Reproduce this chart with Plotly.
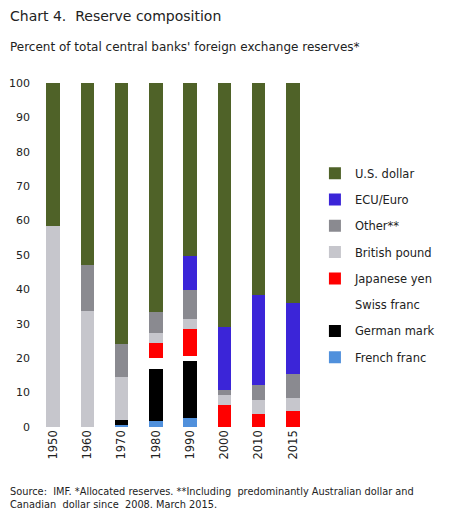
import plotly.graph_objects as go

years = ["1950", "1960", "1970", "1980", "1990", "2000", "2010", "2015"]

# shares in percent (stack order bottom -> top)
french_franc = [0, 0, 0.6, 1.7, 2.6, 0, 0, 0]
german_mark = [0, 0, 1.3, 15.1, 16.5, 0, 0, 0]
swiss_franc = [0, 0, 0, 3.3, 1.5, 0, 0, 0]
japanese_yen = [0, 0, 0, 4.3, 7.9, 6.3, 3.7, 4.6]
british_pound = [58.3, 33.7, 12.6, 2.9, 2.9, 2.9, 4.1, 3.8]
other = [0, 13.4, 9.6, 6.1, 8.5, 1.6, 4.4, 7.0]
ecu_euro = [0, 0, 0, 0, 9.7, 18.3, 26.2, 20.7]
us_dollar = [41.7, 52.9, 75.9, 66.6, 50.4, 70.9, 61.6, 63.9]

FONT = "DejaVu Sans"

series = [
    ("French franc", french_franc, "#5090dc"),
    ("German mark", german_mark, "#000000"),
    ("Swiss franc", swiss_franc, "#ffffff"),
    ("Japanese yen", japanese_yen, "#ff0000"),
    ("British pound", british_pound, "#c6c6cc"),
    ("Other**", other, "#8a8a90"),
    ("ECU/Euro", ecu_euro, "#3b25d8"),
    ("U.S. dollar", us_dollar, "#4f6228"),
]

fig = go.Figure()
for i, (name, vals, col) in enumerate(series):
    fig.add_trace(go.Bar(
        x=years, y=vals, name=name, legendgroup=name,
        legendrank=1000 - i,  # legend lists the top of the stack first
        marker=dict(color=col, line=dict(width=0)),
    ))

# the page body adds 8px on the left and top, so the figure is 8px smaller
fig.update_layout(
    barmode="stack", bargap=0.6,
    width=468, height=508,
    margin=dict(l=28, r=166, t=75, b=89),
    paper_bgcolor="white", plot_bgcolor="white",
    font=dict(family=FONT, size=12, color="#222"),
    showlegend=True,
    legend=dict(
        x=1.018, y=0.78, xanchor="left", yanchor="top",
        traceorder="grouped", tracegroupgap=7.3,
        font=dict(family=FONT, size=11.5, color="#222"),
        itemwidth=30,
    ),
    xaxis=dict(tickangle=-90, showgrid=False, showline=False, ticks="",
               automargin=False, tickfont=dict(family=FONT, size=11.5)),
    yaxis=dict(range=[0, 100], dtick=10, showgrid=False, zeroline=False,
               showline=False, ticks="", ticklabelstandoff=5, automargin=False,
               tickfont=dict(family=FONT, size=11)),
    annotations=[
        dict(text="Chart 4.  Reserve composition", xref="paper", yref="paper",
             x=-28 / 274, y=1.0, yshift=67, xanchor="left", yanchor="middle",
             showarrow=False, font=dict(family=FONT, size=14, color="#222")),
        dict(text="Percent of total central banks' foreign exchange reserves*",
             xref="paper", yref="paper", x=-28 / 274, y=1.0, yshift=36,
             xanchor="left", yanchor="middle", showarrow=False,
             font=dict(family=FONT, size=12, color="#222")),
        dict(text="Source:  IMF. *Allocated reserves. **Including  predominantly Australian dollar and<br>"
                  "Canadian  dollar since  2008. March 2015.",
             xref="paper", yref="paper", x=-28 / 274, y=0, yshift=-71,
             xanchor="left", yanchor="middle", align="left", showarrow=False,
             font=dict(family=FONT, size=9.8, color="#222")),
    ],
)

fig.write_html("out.html")
